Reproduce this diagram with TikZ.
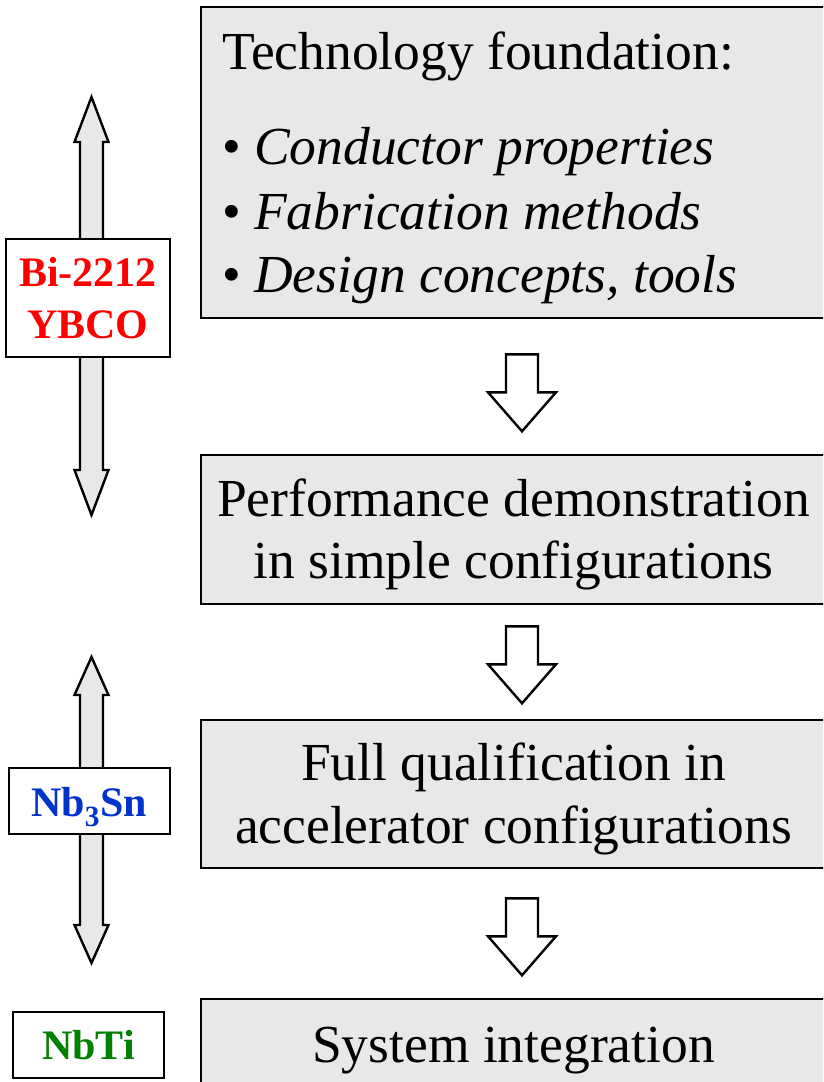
\documentclass[tikz,border=0pt]{standalone}
\usepackage{fontspec}
\setmainfont{Liberation Serif}
\usetikzlibrary{calc}
\definecolor{boxgray}{RGB}{232,232,232}
\definecolor{labred}{RGB}{255,0,0}
\definecolor{labblue}{RGB}{0,51,204}
\definecolor{labgreen}{RGB}{0,128,0}
\tikzset{
  mainbox/.style={draw=black, line width=2.6pt, fill=boxgray, rectangle, inner sep=0pt},
  labbox/.style={draw=black, line width=2.4pt, fill=white, rectangle, inner sep=0pt},
  maintext/.style={inner sep=0pt, font=\fontsize{53.5}{64}\selectfont},
  labtext/.style={inner sep=0pt, font=\fontsize{42}{50}\selectfont\bfseries},
  blockarrow/.style={draw=black, line width=2.4pt, fill=white, line join=miter},
  dblarrow/.style={draw=black, line width=2.4pt, fill=boxgray, line join=miter},
}
\begin{document}
\begin{tikzpicture}[x=1pt,y=-1pt]
\clip (0,0) rectangle (823,1082);
\fill[white] (0,0) rectangle (823,1082);

% main boxes
\node[mainbox, minimum width=625pt, minimum height=311pt] (b1) at (513.5,162.5) {};
\node[mainbox, minimum width=625pt, minimum height=149pt] (b2) at (513.5,529.5) {};
\node[mainbox, minimum width=625pt, minimum height=148pt] (b3) at (513.5,794) {};
\node[mainbox, minimum width=625pt, minimum height=120pt] (b4) at (513.5,1059) {};

% texts
\node[maintext, anchor=base west] (t1a) at (222,69) {Technology foundation:};
\node[maintext, anchor=base west] (t1b) at (222,164) {•\ \textit{Conductor properties}};
\node[maintext, anchor=base west] (t1c) at (222,229) {•\ \textit{Fabrication methods}};
\node[maintext, anchor=base west] (t1d) at (222,292) {•\ \textit{Design concepts, tools}};
\node[maintext, anchor=base] (t2a) at (513.5,516) {Performance demonstration};
\node[maintext, anchor=base] (t2b) at (513.5,578) {in simple configurations};
\node[maintext, anchor=base] (t3a) at (513.5,780) {Full qualification in};
\node[maintext, anchor=base] (t3b) at (513.5,843) {accelerator configurations};
\node[maintext, anchor=base] (t4a) at (513.5,1062) {System integration};

% down block arrows between main boxes
\foreach \src/\dst/\gap in {b1/b2/35, b2/b3/21, b3/b4/29}{
  \coordinate (top) at ($(\src.south)+(8.5,\gap)$);
  \coordinate (tip) at ($(top)+(0,77)$);
  \draw[blockarrow] ($(top)+(-16,0)$) -- ($(top)+(16,0)$) -- ($(tip)+(16,-39)$)
    -- ($(tip)+(34,-39)$) -- (tip) -- ($(tip)+(-34,-39)$) -- ($(tip)+(-16,-39)$) -- cycle;
}

% left double arrows
\coordinate (d1t) at (91.5,97);
\coordinate (d1b) at (91.5,515);
\coordinate (d2t) at (91.5,657);
\coordinate (d2b) at (91.5,963);
\draw[dblarrow] (d1t) -- ($(d1t)+(17,45)$) -- ($(d1t)+(11.5,45)$) -- ($(d1b)+(11.5,-45)$)
  -- ($(d1b)+(17,-45)$) -- (d1b) -- ($(d1b)+(-17,-45)$) -- ($(d1b)+(-11.5,-45)$)
  -- ($(d1t)+(-11.5,45)$) -- ($(d1t)+(-17,45)$) -- cycle;
\draw[dblarrow] (d2t) -- ($(d2t)+(17,38)$) -- ($(d2t)+(11.5,38)$) -- ($(d2b)+(11.5,-38)$)
  -- ($(d2b)+(17,-38)$) -- (d2b) -- ($(d2b)+(-17,-38)$) -- ($(d2b)+(-11.5,-38)$)
  -- ($(d2t)+(-11.5,38)$) -- ($(d2t)+(-17,38)$) -- cycle;

% label boxes
\node[labbox, minimum width=164pt, minimum height=118pt] (l1) at (88,298) {};
\node[labbox, minimum width=161pt, minimum height=66pt] (l2) at (89.5,801) {};
\node[labbox, minimum width=151pt, minimum height=66pt] (l3) at (88.5,1045) {};
\node[labtext, text=labred, anchor=base] (l1a) at (88,286) {Bi-2212};
\node[labtext, text=labred, anchor=base] (l1b) at (88,338) {YBCO};
\node[labtext, text=labblue, anchor=base] (l2a) at (89,816) {Nb\textsubscript{3}Sn};
\node[labtext, text=labgreen, anchor=base] (l3a) at (88.5,1059) {NbTi};
\end{tikzpicture}
\end{document}
